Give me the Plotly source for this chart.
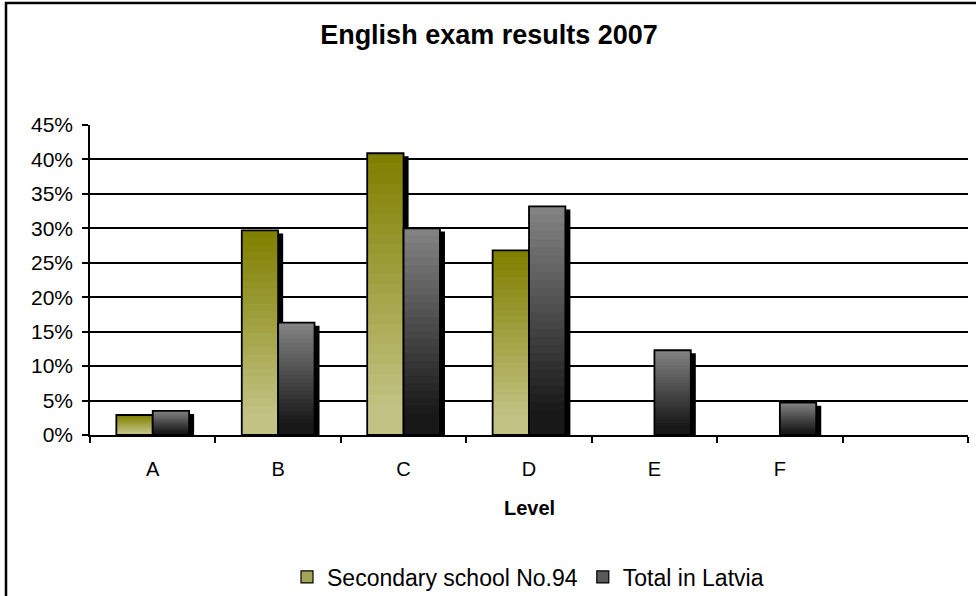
import plotly.graph_objects as go

# ---- data ----
levels = ["A", "B", "C", "D", "E", "F", " "]
school_no94 = [2.9, 29.7, 40.9, 26.8, None, None, None]
total_latvia = [3.5, 16.3, 30.0, 33.2, 12.3, 4.7, None]
y_ticks = [0, 5, 10, 15, 20, 25, 30, 35, 40, 45]

FONT = "Liberation Sans, Arial, sans-serif"
N = 28
BAR_W = 0.29
SHADOW_DX = 0.04
SHADOW_DY = 0.45

# plot-area geometry (pixels)
L, R, T, B = 90, 8, 125, 161
H_PLOT = 596 - T - B


def py(px):
    """pixel row -> paper y"""
    return (596 - B - px) / H_PLOT


def px_x(px):
    return (px - L) / (976 - L - R)


def lerp(c1, c2, t):
    return "rgb(%d,%d,%d)" % tuple(round(a + (b - a) * t) for a, b in zip(c1, c2))


series = [
    dict(name="Secondary school No.94", vals=school_no94, offset=-BAR_W,
         top=(128, 128, 0), bottom=(194, 194, 132), swatch="rgb(165,165,90)"),
    dict(name="Total in Latvia", vals=total_latvia, offset=0.0,
         top=(130, 130, 130), bottom=(24, 24, 24), swatch="rgb(90,90,90)"),
]

fig = go.Figure()

for s in series:
    vals = s["vals"]
    # shadow
    fig.add_trace(go.Bar(
        x=levels, y=[(v - SHADOW_DY) if v else None for v in vals],
        offset=s["offset"] + SHADOW_DX, width=BAR_W,
        marker=dict(color="black", line=dict(width=0)),
        showlegend=False, hoverinfo="skip"))
    # gradient (overlaid bars of decreasing height)
    for k in range(N, 0, -1):
        t = k / N
        col = lerp(s["bottom"], s["top"], min(1.0, max(0.0, (t - 0.12) / 0.88)))
        fig.add_trace(go.Bar(
            x=levels, y=[(v * t) if v else None for v in vals],
            offset=s["offset"], width=BAR_W,
            marker=dict(color=col, line=dict(width=0)),
            showlegend=False, hoverinfo="skip"))
    # outline
    fig.add_trace(go.Bar(
        x=levels, y=vals, offset=s["offset"], width=BAR_W,
        marker=dict(color="rgba(0,0,0,0)", line=dict(width=1.8, color="black")),
        showlegend=False, hoverinfo="skip"))

# legend-only entries
for s in series:
    fig.add_trace(go.Bar(
        x=[levels[0]], y=[0], offset=0, width=0.001, name=s["name"],
        marker=dict(color=s["swatch"], line=dict(width=1.2, color="black")),
        hoverinfo="skip"))

fig.update_layout(
    width=976, height=596,
    barmode="overlay",
    paper_bgcolor="white", plot_bgcolor="white",
    margin=dict(l=L, r=R, t=T, b=B, autoexpand=False),
    font=dict(family=FONT, color="black", size=20),
    title=dict(text="<b>English exam results 2007</b>", x=0.501, xanchor="center",
               y=1 - 35 / 596, yanchor="middle", yref="container",
               font=dict(size=27, family=FONT, color="black")),
    showlegend=True,
    legend=dict(orientation="h", xref="container", x=528 / 976, xanchor="center",
                yref="container", y=1 - 577 / 596, yanchor="middle",
                font=dict(size=23, family=FONT),
                bgcolor="rgba(0,0,0,0)", traceorder="normal"),
    xaxis=dict(type="category", categoryorder="array", categoryarray=levels,
               range=[-0.5, 6.5], tickson="boundaries", ticks="outside",
               ticklen=6, tickwidth=1.5, tickcolor="black",
               tickfont=dict(size=20), automargin=False,
               showline=True, linecolor="black", linewidth=1.5,
               showgrid=False, ticklabelstandoff=15, fixedrange=True),
    yaxis=dict(range=[0, 45], tickvals=y_ticks, ticktext=[f"{v}%" for v in y_ticks],
               ticks="outside", ticklen=6, tickwidth=1.5, tickcolor="black",
               tickfont=dict(size=21), automargin=False,
               showline=True, linecolor="black", linewidth=1.5,
               showgrid=True, gridcolor="black", gridwidth=1.5,
               zeroline=False, ticklabelstandoff=5, fixedrange=True),
    annotations=[dict(text="<b>Level</b>", xref="paper", yref="paper",
                      x=px_x(529), y=py(508), xanchor="center", yanchor="middle",
                      showarrow=False, font=dict(size=20, family=FONT))],
    shapes=[dict(type="rect", xref="paper", yref="paper",
                 x0=px_x(6), x1=px_x(1000),
                 y0=py(620), y1=py(3),
                 line=dict(color="black", width=2.5), fillcolor="rgba(0,0,0,0)",
                 layer="above")],
)

fig.write_html("out.html", config={"displayModeBar": False},
               post_script="document.body.style.margin='0';")
